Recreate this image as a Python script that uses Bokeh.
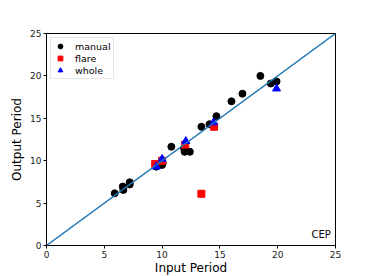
from bokeh.plotting import figure
from bokeh.models import Range1d, Legend, LegendItem, Label, FixedTicker
from bokeh.embed import file_html
from bokeh.resources import INLINE

manual_x = [5.9, 6.6, 6.65, 7.2, 7.2, 9.5, 10.0, 10.05, 10.8, 11.9, 11.95, 12.4, 13.4, 14.1, 14.7, 16.0, 16.95, 18.5, 19.4, 19.9]
manual_y = [6.15, 6.95, 6.55, 7.45, 7.2, 9.3, 9.5, 9.7, 11.65, 11.45, 11.05, 11.05, 14.0, 14.3, 15.25, 17.0, 17.9, 20.0, 19.1, 19.35]
flare_x = [9.4, 10.0, 12.0, 14.5, 13.4]
flare_y = [9.6, 10.0, 11.9, 14.0, 6.1]
whole_x = [9.5, 10.0, 12.05, 14.45, 19.9]
whole_y = [9.3, 10.2, 12.3, 14.5, 18.5]
line_x = [0, 25]
line_y = [0, 25]
ticks = [0, 5, 10, 15, 20, 25]

FONT = "DejaVu Sans"

p = figure(frame_width=289, frame_height=212, output_backend="svg", toolbar_location=None,
           x_range=Range1d(0, 25), y_range=Range1d(0, 25),
           min_border_left=46, min_border_top=33, min_border_right=36, min_border_bottom=28)
p.grid.visible = False
p.outline_line_color = "black"
p.outline_line_width = 1
p.background_fill_color = "white"
p.border_fill_color = "white"

for ax in (p.xaxis[0], p.yaxis[0]):
    ax.ticker = FixedTicker(ticks=ticks)
    ax.minor_tick_line_color = None
    ax.axis_line_color = "black"
    ax.major_tick_line_color = "black"
    ax.major_tick_out = 3
    ax.major_tick_in = 0
    ax.major_label_text_font = FONT
    ax.major_label_text_font_size = "9px"
    ax.major_label_text_color = "#222222"
    ax.axis_label_text_font = FONT
    ax.axis_label_text_font_size = "12px"
    ax.axis_label_text_font_style = "normal"
    ax.axis_label_text_color = "black"
    ax.major_label_standoff = 2
    ax.axis_label_standoff = 3

p.xaxis.axis_label_standoff = 0
p.xaxis.axis_label = "Input Period"
p.yaxis.axis_label = "Output Period"

r1 = p.scatter(manual_x, manual_y, marker="circle", size=7, color="black")
r2 = p.scatter(flare_x, flare_y, marker="square", size=7, color="red")
r3 = p.scatter(whole_x, whole_y, marker="triangle", size=8, color="blue")
p.line(line_x, line_y, line_width=1.5, color="#1f77b4")

legend = Legend(items=[LegendItem(label="manual", renderers=[r1]),
                       LegendItem(label="flare", renderers=[r2]),
                       LegendItem(label="whole", renderers=[r3])],
                location="top_left")
legend.label_text_font = FONT
legend.label_text_font_size = "9.5px"
legend.label_text_color = "black"
legend.label_height = 12
legend.glyph_height = 12
legend.glyph_width = 14
legend.spacing = 0
legend.padding = 2
legend.margin = 4
legend.border_line_color = "#cccccc"
legend.label_standoff = 8
p.add_layout(legend)

p.add_layout(Label(x=24.6, y=0.7, text="CEP", text_align="right", text_baseline="bottom",
                   text_font=FONT, text_font_size="10px", text_color="black"))

open("out.html", "w").write(file_html(p, INLINE))
